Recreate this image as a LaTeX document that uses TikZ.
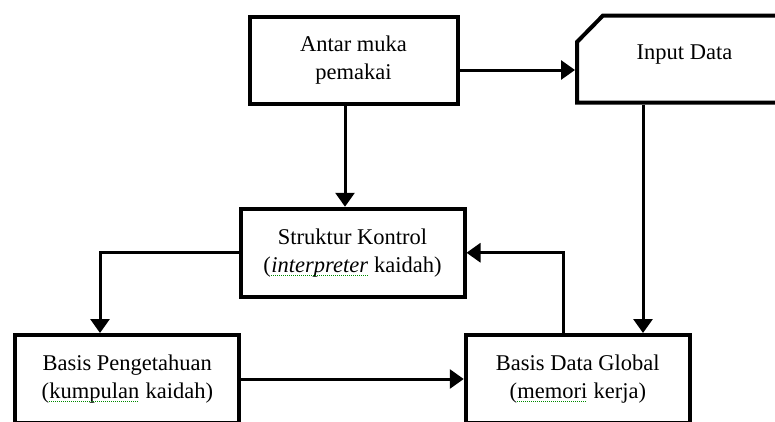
\documentclass[tikz,border=0pt]{standalone}
\usepackage{fontspec}
\setmainfont{Liberation Serif}
\usetikzlibrary{arrows.meta}
\newcommand\squig[1]{\tikz[baseline=(sq.base)]{\node[inner sep=0pt,outer sep=0pt,draw=none,minimum width=0pt,minimum height=0pt](sq){#1};\draw[green!55!black,line width=0.9pt,dash pattern=on 1pt off 1pt]([yshift=-3.5pt]sq.base west)--([yshift=-3.5pt]sq.base east);}}
\begin{document}
\begin{tikzpicture}[x=1pt,y=-1pt,
  box/.style={draw,line width=4pt,minimum width=224pt,minimum height=88pt,inner sep=0pt,align=center,font=\fontsize{22.5}{28}\selectfont},
  arr/.style={line width=3pt,-{Triangle[width=19pt,length=14pt]}}]
\useasboundingbox (0,0) rectangle (775,421);
\clip (0,0) rectangle (775,421);
\fill[white] (0,0) rectangle (775,421);
\node[box,minimum width=208pt,minimum height=87pt] (A) at (353.5,60) {Antar muka\\pemakai};
\node[box,draw=none,minimum width=215pt,minimum height=87pt] (I) at (684.5,59) {};
\draw[line width=4pt] (577,42) -- (603,15.5) -- (840,15.5) -- (840,102.5) -- (577,102.5) -- cycle;
\node[font=\fontsize{22.5}{28}\selectfont] (It) at (684.5,55) {Input Data};
\node[box] (S) at (352.5,252.75) {Struktur Kontrol\\(\squig{\textit{interpreter}} kaidah)};
\node[box] (BP) at (127.25,379) {Basis Pengetahuan\\(\squig{kumpulan} kaidah)};
\node[box] (BD) at (577.75,379) {Basis Data Global\\(\squig{memori} kerja)};
\draw[arr] ([xshift=-8.5pt]A.south) -- ([xshift=-8.5pt]A.south |- S.north);
\draw[arr] ([yshift=-10pt]A.east) -- ([yshift=-10pt]A.east -| I.west);
\draw[arr] ([xshift=-41.5pt]I.south) -- ([xshift=-41.5pt]I.south |- BD.north);
\draw[arr] ([xshift=-14.75pt]BD.north) |- (S.east);
\draw[arr] (S.west) -| ([xshift=-27.25pt]BP.north);
\draw[arr] (BP.east) -- (BD.west);
\end{tikzpicture}
\end{document}
